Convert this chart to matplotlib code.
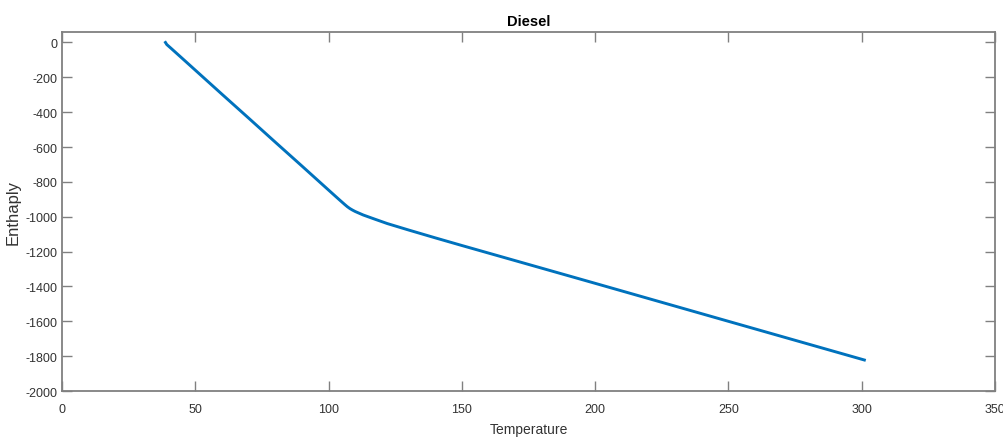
import numpy as np
import matplotlib.pyplot as plt

# temperature vs enthalpy
temp = [38.8, 39.3, 41, 45, 50, 60, 70, 80, 90, 100, 104, 106, 107, 108,
        109, 110, 113, 117, 122, 130, 140, 150, 200, 250, 301]
enth = [0, -12, -35, -90, -159, -297, -434, -572, -709, -847, -902, -929,
        -942, -953, -962, -970, -990, -1012, -1039, -1076, -1121, -1165,
        -1382, -1600, -1822]

plt.rcParams['font.family'] = ['Liberation Sans', 'DejaVu Sans']
plt.rcParams['axes.unicode_minus'] = False

fig = plt.figure(figsize=(10.04, 4.39), dpi=100)
ax = fig.add_axes([0.0618, 0.107, 0.9292, 0.8178])

ax.plot(temp, enth, color='#0072BD', linewidth=2.1)

ax.set_xlim(0, 350)
ax.set_ylim(-2000, 60)
ax.set_xticks(np.arange(0, 351, 50))
ax.set_yticks(np.arange(-2000, 1, 200))

gray = '#808080'
txt = '#333333'
for s in ax.spines.values():
    s.set_color(gray)
    s.set_linewidth(1.3)
ax.tick_params(direction='in', length=7, width=1, color=gray,
               labelcolor=txt, labelsize=9, top=True, right=True)
ax.tick_params(axis='x', pad=8.5)
ax.tick_params(axis='y', pad=3.5)

ax.set_title('Diesel', fontsize=10.5, fontweight='bold', pad=5)
ax.set_xlabel('Temperature', fontsize=10, color=txt, labelpad=5)
ax.set_ylabel('Enthaply', fontsize=12, color=txt, labelpad=3)

fig.savefig('out.png', dpi=100)
